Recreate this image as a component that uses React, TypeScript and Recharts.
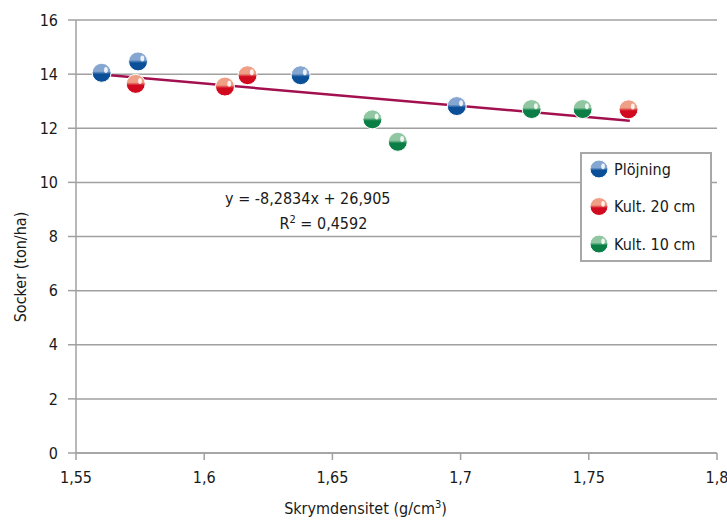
import React from 'react';
import {
  ScatterChart, Scatter, XAxis, YAxis, CartesianGrid, ReferenceLine, ReferenceDot,
} from 'recharts';

const plojning = [
  { x: 1.5600, y: 14.05 },
  { x: 1.5742, y: 14.47 },
  { x: 1.6376, y: 13.96 },
  { x: 1.6985, y: 12.82 },
];
const kult20 = [
  { x: 1.5733, y: 13.64 },
  { x: 1.6081, y: 13.54 },
  { x: 1.6169, y: 13.96 },
  { x: 1.7655, y: 12.70 },
];
const kult10 = [
  { x: 1.6656, y: 12.33 },
  { x: 1.6755, y: 11.50 },
  { x: 1.7277, y: 12.71 },
  { x: 1.7476, y: 12.71 },
];
const trendLine = [
  { x: 1.5600, y: 13.983 },
  { x: 1.7660, y: 12.277 },
];
const xTicks = [1.55, 1.6, 1.65, 1.7, 1.75, 1.8];
const yTicks = [0, 2, 4, 6, 8, 10, 12, 14, 16];
const equationText = 'y = -8,2834x + 26,905';
const r2Label = '0,4592';
const equationPos = { x: 1.6404, y: 9.4 };
const r2Pos = { x: 1.6465, y: 8.5 };

const FONT = '"DejaVu Sans Condensed", "DejaVu Sans", sans-serif';
const STRETCH = 'condensed';
const FS = 16;
const TEXT = '#1a1a1a';
const GRID = '#a0a0a0';

type Palette = { id: string; light: string; dark: string };
const BLUE: Palette = { id: 'gBlue', light: '#86a6d2', dark: '#0a4f97' };
const RED: Palette = { id: 'gRed', light: '#ef9f85', dark: '#d20a20' };
const GREEN: Palette = { id: 'gGreen', light: '#90c7a2', dark: '#0a7e45' };

const Ball = ({ cx, cy, p, r = 9.5 }: { cx: number; cy: number; p: Palette; r?: number }) => (
  <g>
    <defs>
      <linearGradient id={p.id} x1="0" y1="0" x2="0" y2="1">
        <stop offset="0" stopColor={p.light} />
        <stop offset="0.42" stopColor={p.light} />
        <stop offset="0.58" stopColor={p.dark} />
        <stop offset="1" stopColor={p.dark} />
      </linearGradient>
    </defs>
    <circle cx={cx} cy={cy} r={r} fill={`url(#${p.id})`} stroke="#ffffff" strokeWidth={1} />
    <ellipse cx={cx + r * 0.45} cy={cy - r * 0.3} rx={r * 0.2} ry={r * 0.32} fill="#ffffff" opacity={0.85} />
  </g>
);

const makeShape = (p: Palette) => (props: any) => <Ball cx={props.cx} cy={props.cy} p={p} />;

const legendItems = [
  { label: 'Plöjning', p: BLUE },
  { label: 'Kult. 20 cm', p: RED },
  { label: 'Kult. 10 cm', p: GREEN },
];

const LegendBox = () => (
  <div
    style={{
      position: 'absolute', left: 580, top: 152, width: 128, height: 106,
      border: '2px solid #a8a8a8', background: '#fff',
    }}
  >
    <svg width={128} height={106} style={{ display: 'block' }}>
      {legendItems.map((it, i) => (
        <g key={it.label}>
          <Ball cx={17} cy={15 + i * 37.5} p={{ ...it.p, id: it.p.id + 'L' }} r={9} />
          <text
            x={32}
            y={15 + i * 37.5}
            dy="0.36em"
            fontFamily={FONT}
            fontSize={FS}
            fill={TEXT}
            style={{ fontStretch: STRETCH }}
          >
            {it.label}
          </text>
        </g>
      ))}
    </svg>
  </div>
);

const fmt = (v: number) => String(v).replace('.', ',');

const textStyle = { fontStretch: STRETCH } as React.CSSProperties;

export default function App() {
  return (
    <div style={{ position: 'absolute', left: 0, top: 0, width: 727, height: 522, background: '#fff' }}>
      <ScatterChart width={727} height={522} margin={{ top: 20, right: 10, left: 0, bottom: 19 }}>
        <CartesianGrid horizontal vertical={false} stroke={GRID} strokeWidth={1.5} />
        <XAxis
          type="number"
          dataKey="x"
          domain={[1.55, 1.8]}
          ticks={xTicks}
          tickFormatter={fmt}
          height={50}
          tickSize={7}
          tickMargin={12}
          axisLine={{ stroke: GRID, strokeWidth: 1.5 }}
          tickLine={{ stroke: GRID, strokeWidth: 1.5 }}
          tick={{ fontFamily: FONT, fontSize: FS, fill: TEXT, style: textStyle }}
          allowDataOverflow
          label={{
            content: (props: any) => {
              const vb = props.viewBox || { x: 76, y: 453, width: 641 };
              const x = vb.x + vb.width / 2 - 31;
              const y = vb.y + 61;
              return (
                <text x={x} y={y} textAnchor="middle" fontFamily={FONT} fontSize={FS} fill={TEXT} style={textStyle}>
                  Skrymdensitet (g/cm
                  <tspan dy={-6} fontSize={11}>3</tspan>
                  <tspan dy={6}>)</tspan>
                </text>
              );
            },
          }}
        />
        <YAxis
          type="number"
          dataKey="y"
          domain={[0, 16]}
          ticks={yTicks}
          width={76}
          tickSize={8}
          tickMargin={10}
          axisLine={{ stroke: GRID, strokeWidth: 1.5 }}
          tickLine={{ stroke: GRID, strokeWidth: 1.5 }}
          tick={{ fontFamily: FONT, fontSize: FS, fill: TEXT, style: textStyle }}
          label={{
            content: () => (
              <text
                x={20}
                y={267}
                transform="rotate(-90 20 267)"
                textAnchor="middle"
                dy="0.36em"
                fontFamily={FONT}
                fontSize={FS}
                fill={TEXT}
                style={textStyle}
              >
                Socker (ton/ha)
              </text>
            ),
          }}
        />
        <ReferenceLine
          segment={trendLine}
          stroke="#a3104f"
          strokeWidth={2.5}
          ifOverflow="visible"
        />
        <ReferenceDot
          x={equationPos.x}
          y={equationPos.y}
          r={1}
          fill="none"
          stroke="none"
          label={{
            content: (props: any) => {
              const vb = props.viewBox;
              const cx = vb.x + vb.width / 2;
              const cy = vb.y + vb.height / 2;
              return (
                <text x={cx} y={cy} dy="0.36em" textAnchor="middle" fontFamily={FONT} fontSize={FS} fill={TEXT} style={textStyle}>
                  {equationText}
                </text>
              );
            },
          }}
        />
        <ReferenceDot
          x={r2Pos.x}
          y={r2Pos.y}
          r={1}
          fill="none"
          stroke="none"
          label={{
            content: (props: any) => {
              const vb = props.viewBox;
              const cx = vb.x + vb.width / 2;
              const cy = vb.y + vb.height / 2;
              return (
                <text x={cx} y={cy} dy="0.36em" textAnchor="middle" fontFamily={FONT} fontSize={FS} fill={TEXT} style={textStyle}>
                  R
                  <tspan dy={-6} fontSize={11}>2</tspan>
                  <tspan dy={6}>{' = ' + r2Label}</tspan>
                </text>
              );
            },
          }}
        />
        <Scatter name="Plöjning" data={plojning} fill={BLUE.dark} shape={makeShape(BLUE)} isAnimationActive={false} />
        <Scatter name="Kult. 20 cm" data={kult20} fill={RED.dark} shape={makeShape(RED)} isAnimationActive={false} />
        <Scatter name="Kult. 10 cm" data={kult10} fill={GREEN.dark} shape={makeShape(GREEN)} isAnimationActive={false} />
      </ScatterChart>
      <LegendBox />
    </div>
  );
}
